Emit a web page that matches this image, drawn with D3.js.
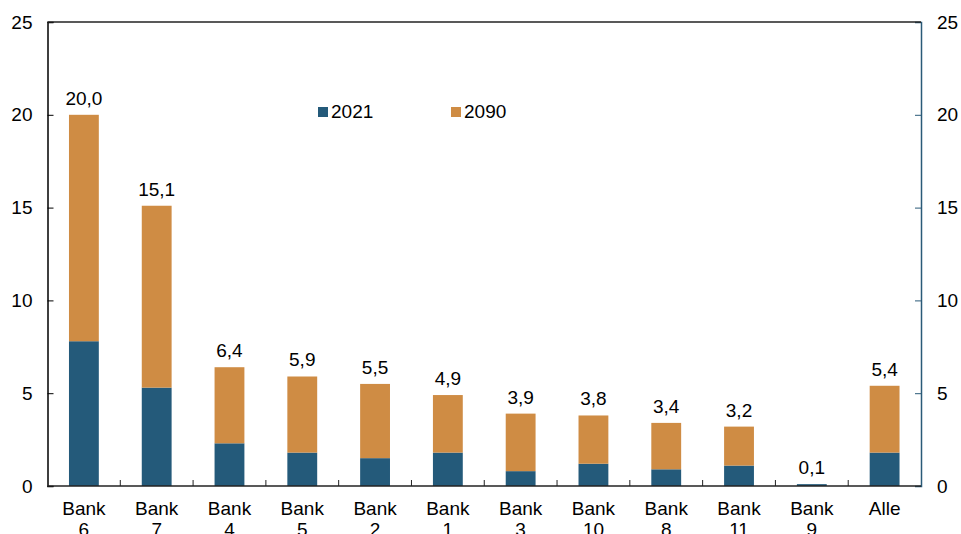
<!DOCTYPE html>
<html>
<head>
<meta charset="utf-8">
<script src="https://cdn.jsdelivr.net/npm/d3@7/dist/d3.min.js"></script>
<style>
  body { margin: 0; background: #fff; }
  text { font-family: "Liberation Sans", Arial, sans-serif; fill: #000; }
</style>
</head>
<body>
<div id="chart"></div>
<script>
// data
var categories = ["Bank 6", "Bank 7", "Bank 4", "Bank 5", "Bank 2", "Bank 1", "Bank 3", "Bank 10", "Bank 8", "Bank 11", "Bank 9", "Alle"];
var series = ["2021", "2090"];
var values2021 = [7.8, 5.3, 2.3, 1.8, 1.5, 1.8, 0.8, 1.2, 0.9, 1.1, 0.1, 1.8];
var values2090 = [12.2, 9.8, 4.1, 4.1, 4.0, 3.1, 3.1, 2.6, 2.5, 2.1, 0.0, 3.6];
var totalLabels = ["20,0", "15,1", "6,4", "5,9", "5,5", "4,9", "3,9", "3,8", "3,4", "3,2", "0,1", "5,4"];
var yTicks = [0, 5, 10, 15, 20, 25];

var colors = { "2021": "#245a7a", "2090": "#cf8c44" };

var width = 961, height = 534;
var m = { top: 22, right: 40, bottom: 48, left: 47.5 };
var fs = "19px";

var svg = d3.select("#chart").append("svg")
    .attr("width", width)
    .attr("height", height);

var x = d3.scaleBand()
    .domain(categories)
    .range([m.left, width - m.right])
    .paddingInner(0.59)
    .paddingOuter(0.295);

var y = d3.scaleLinear()
    .domain([0, 25])
    .range([height - m.bottom, m.top]);

var rows = categories.map(function (c, i) {
    return { cat: c, "2021": values2021[i], "2090": values2090[i], label: totalLabels[i] };
});

var stacked = d3.stack().keys(series)(rows);

svg.selectAll("g.layer")
    .data(stacked)
    .enter()
    .append("g")
    .attr("class", "layer")
    .attr("fill", function (d) { return colors[d.key]; })
    .selectAll("rect")
    .data(function (d) { return d; })
    .enter()
    .append("rect")
    .attr("x", function (d) { return x(d.data.cat); })
    .attr("width", x.bandwidth())
    .attr("y", function (d) { return y(d[1]); })
    .attr("height", function (d) { return y(d[0]) - y(d[1]); });

// total labels
svg.selectAll("text.total")
    .data(rows)
    .enter()
    .append("text")
    .attr("class", "total")
    .attr("x", function (d) { return x(d.cat) + x.bandwidth() / 2; })
    .attr("y", function (d) { return y(d["2021"] + d["2090"]) - 10; })
    .attr("text-anchor", "middle")
    .style("font-size", fs)
    .text(function (d) { return d.label; });

// axes
var left = svg.append("g")
    .attr("transform", "translate(" + m.left + ",0)")
    .call(d3.axisLeft(y).tickValues(yTicks).tickSize(-6).tickPadding(15));
left.select(".domain").attr("stroke", "#000").attr("stroke-width", 1.5);
left.selectAll("line").attr("stroke", "#000");
left.selectAll("text").style("font-size", fs);

var rightX = width - m.right;
var right = svg.append("g")
    .attr("transform", "translate(" + rightX + ",0)")
    .call(d3.axisRight(y).tickValues(yTicks).tickSize(-6).tickPadding(16));
right.select(".domain").attr("stroke", "#2a5a78").attr("stroke-width", 1.5);
right.selectAll("line").attr("stroke", "#2a5a78");
right.selectAll("text").style("font-size", fs);

// top border
svg.append("line")
    .attr("x1", m.left).attr("x2", rightX)
    .attr("y1", y(25)).attr("y2", y(25))
    .attr("stroke", "#222").attr("stroke-width", 1.5);

// bottom axis
svg.append("line")
    .attr("x1", m.left).attr("x2", rightX)
    .attr("y1", y(0)).attr("y2", y(0))
    .attr("stroke", "#222").attr("stroke-width", 1.5);

var step = x.step();
var sepX = d3.range(1, categories.length).map(function (i) { return x(categories[i]) - (step - x.bandwidth()) / 2; });
svg.selectAll("line.sep")
    .data(sepX)
    .enter()
    .append("line")
    .attr("class", "sep")
    .attr("x1", function (d) { return d; })
    .attr("x2", function (d) { return d; })
    .attr("y1", y(0))
    .attr("y2", y(0) - 6)
    .attr("stroke", "#222");

// category labels
var catText = svg.selectAll("text.cat")
    .data(categories)
    .enter()
    .append("text")
    .attr("class", "cat")
    .attr("text-anchor", "middle")
    .style("font-size", fs)
    .attr("transform", function (d) { return "translate(" + (x(d) + x.bandwidth() / 2) + "," + (y(0) + 29) + ")"; });

catText.each(function (d) {
    var parts = d.split(" ");
    var t = d3.select(this);
    parts.forEach(function (p, i) {
        t.append("tspan").attr("x", 0).attr("dy", i === 0 ? 0 : 21).text(p);
    });
});

// legend
var legend = svg.selectAll("g.legend")
    .data(series)
    .enter()
    .append("g")
    .attr("class", "legend")
    .attr("transform", function (d, i) { return "translate(" + (318 + i * 133) + ",107)"; });

legend.append("rect")
    .attr("width", 10)
    .attr("height", 10)
    .attr("fill", function (d) { return colors[d]; });

legend.append("text")
    .attr("x", 13)
    .attr("y", 11)
    .style("font-size", fs)
    .text(function (d) { return d; });
</script>
</body>
</html>
